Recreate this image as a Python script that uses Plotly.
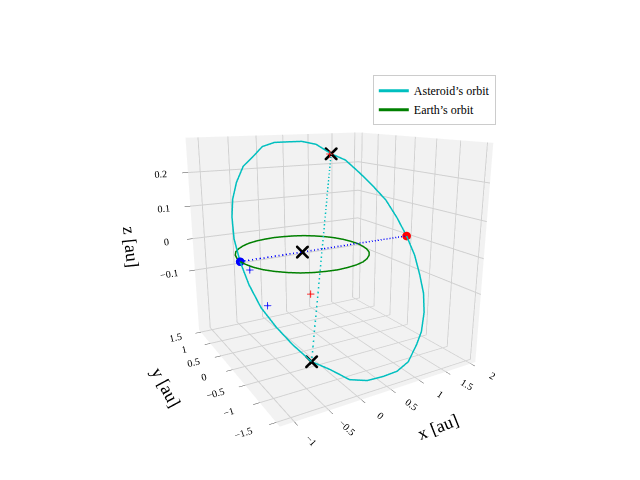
import plotly.graph_objects as go

# asteroid orbit points (au)
ast_x = [2.0, 1.98, 1.91, 1.80, 1.65, 1.46, 1.25, 1.01, 0.76, 0.5, 0.24, -0.01, -0.25, -0.46, -0.65, -0.80, -0.91, -0.98, -1.0,
         -0.98, -0.91, -0.80, -0.65, -0.46, -0.25, -0.01, 0.24, 0.5, 0.76, 1.01, 1.25, 1.46, 1.65, 1.80, 1.91, 1.98, 2.0]
ast_y = [0, 0.25, 0.48, 0.71, 0.91, 1.08, 1.22, 1.33, 1.39, 1.41, 1.39, 1.33, 1.22, 1.08, 0.91, 0.71, 0.48, 0.25, 0,
         -0.25, -0.48, -0.71, -0.91, -1.08, -1.22, -1.33, -1.39, -1.41, -1.39, -1.33, -1.22, -1.08, -0.91, -0.71, -0.48, -0.25, 0]
ast_z = [0, 0.05, 0.10, 0.14, 0.18, 0.22, 0.24, 0.27, 0.28, 0.28, 0.28, 0.27, 0.24, 0.22, 0.18, 0.14, 0.10, 0.05, 0,
         -0.05, -0.10, -0.14, -0.18, -0.22, -0.24, -0.27, -0.28, -0.28, -0.28, -0.27, -0.24, -0.22, -0.18, -0.14, -0.10, -0.05, 0]

# earth orbit points (au)
earth_x = [1, 0.98, 0.94, 0.87, 0.77, 0.64, 0.5, 0.34, 0.17, 0, -0.17, -0.34, -0.5, -0.64, -0.77, -0.87, -0.94, -0.98, -1,
           -0.98, -0.94, -0.87, -0.77, -0.64, -0.5, -0.34, -0.17, 0, 0.17, 0.34, 0.5, 0.64, 0.77, 0.87, 0.94, 0.98, 1]
earth_y = [0, 0.17, 0.34, 0.5, 0.64, 0.77, 0.87, 0.94, 0.98, 1, 0.98, 0.94, 0.87, 0.77, 0.64, 0.5, 0.34, 0.17, 0,
           -0.17, -0.34, -0.5, -0.64, -0.77, -0.87, -0.94, -0.98, -1, -0.98, -0.94, -0.87, -0.77, -0.64, -0.5, -0.34, -0.17, 0]
earth_z = [0] * 37

# apsides (perihelion, aphelion)
aps_x = [-1.0, 2.0]
aps_y = [0, 0]
aps_z = [0, 0]
# node line ends
node_x = [1.25, -0.46]
node_y = [1.22, -1.08]
node_z = [0.24, -0.22]
# sun
sun = [0, 0, 0]
# extra markers
red_x, red_y, red_z = [1.22, -0.2], [1.22, -0.6], [0.24, -0.08]
blue_x, blue_y, blue_z = [-0.9, -0.8], [-0.1, -0.45], [-0.02, -0.10]

fig = go.Figure()
fig.add_trace(go.Scatter3d(x=ast_x, y=ast_y, z=ast_z, mode='lines', line=dict(color='#00bfbf', width=3), name="Asteroid’s orbit"))
fig.add_trace(go.Scatter3d(x=earth_x, y=earth_y, z=earth_z, mode='lines', line=dict(color='green', width=3), name="Earth’s orbit"))
fig.add_trace(go.Scatter3d(x=aps_x, y=aps_y, z=aps_z, mode='lines', line=dict(color='blue', width=3, dash='dash'), showlegend=False))
fig.add_trace(go.Scatter3d(x=node_x, y=node_y, z=node_z, mode='lines', line=dict(color='#00bfbf', width=3, dash='dash'), showlegend=False))
fig.add_trace(go.Scatter3d(x=[aps_x[0]], y=[aps_y[0]], z=[aps_z[0]], mode='markers', marker=dict(color='blue', size=5), showlegend=False))
fig.add_trace(go.Scatter3d(x=[aps_x[1]], y=[aps_y[1]], z=[aps_z[1]], mode='markers', marker=dict(color='red', size=5), showlegend=False))
fig.add_trace(go.Scatter3d(x=red_x, y=red_y, z=red_z, mode='markers', marker=dict(color='red', size=4, symbol='cross'), showlegend=False))
fig.add_trace(go.Scatter3d(x=blue_x, y=blue_y, z=blue_z, mode='markers', marker=dict(color='blue', size=4, symbol='cross'), showlegend=False))
fig.add_trace(go.Scatter3d(x=node_x + [sun[0]], y=node_y + [sun[1]], z=node_z + [sun[2]], mode='markers',
                           marker=dict(color='black', size=3, symbol='x'), showlegend=False))

ax = dict(backgroundcolor='#f2f2f2', gridcolor='#d0d0d0', showbackground=True, zeroline=False,
          tickfont=dict(size=11), ticks='outside')
fig.update_layout(
    width=640, height=480,
    font=dict(family='Liberation Serif', color='black'),
    paper_bgcolor='white',
    margin=dict(l=0, r=0, t=0, b=0),
    scene=dict(
        xaxis=dict(ax, title=dict(text='x [au]', font=dict(size=18)), range=[-1.2, 2.1], tickvals=[-1, -0.5, 0, 0.5, 1, 1.5, 2]),
        yaxis=dict(ax, title=dict(text='y [au]', font=dict(size=18)), range=[-1.6, 1.6], tickvals=[-1.5, -1, -0.5, 0, 0.5, 1, 1.5]),
        zaxis=dict(ax, title=dict(text='z [au]', font=dict(size=18)), range=[-0.3, 0.3], tickvals=[-0.1, 0, 0.1, 0.2]),
        aspectmode='cube',
        camera=dict(eye=dict(x=-1.2, y=-2.05, z=0.65)),
        domain=dict(x=[0.1, 0.9], y=[0.05, 0.95]),
    ),
    legend=dict(x=0.57, y=0.86, bgcolor='white', bordercolor='#cccccc', borderwidth=1, font=dict(size=12)),
)
fig.write_html("out.html")
